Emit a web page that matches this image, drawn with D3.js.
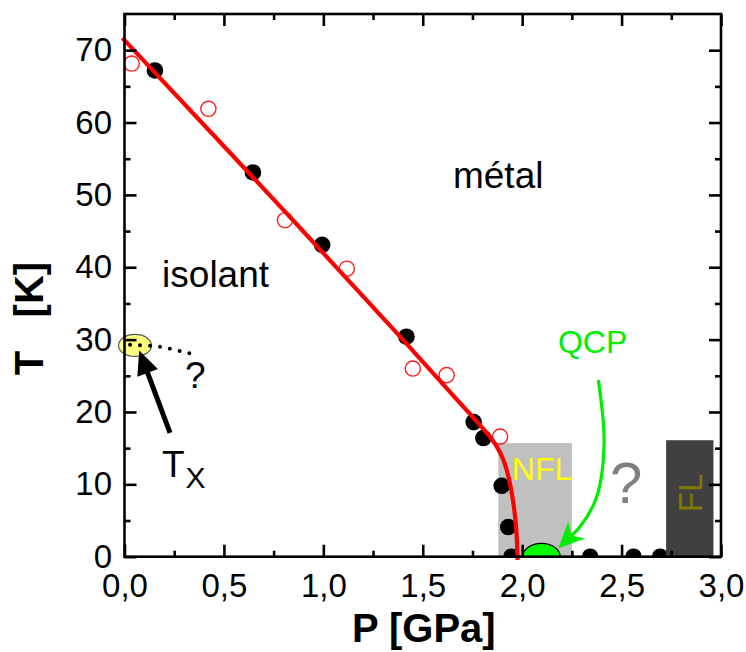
<!DOCTYPE html>
<html><head><meta charset="utf-8">
<script src="https://cdn.jsdelivr.net/npm/d3@7"></script>
<style>
html,body{margin:0;padding:0;background:#fff;}
text{font-family:"Liberation Sans",Arial,Helvetica,sans-serif;}
</style></head>
<body><svg id="chart" width="746" height="652"></svg>
<script>
// ---- data ----
const xTicks = [0, 0.5, 1.0, 1.5, 2.0, 2.5, 3.0];
const xTickLabels = ["0,0","0,5","1,0","1,5","2,0","2,5","3,0"];
const xMinorTicks = [0.25, 0.75, 1.25, 1.75, 2.25, 2.75];
const yTicks = [0, 10, 20, 30, 40, 50, 60, 70];
const yTickLabels = ["0","10","20","30","40","50","60","70"];
const yMinorTicks = [5, 15, 25, 35, 45, 55, 65];

const blackP = [0.153, 0.646, 0.994, 1.418, 1.756, 1.805, 1.897, 1.930, 1.946, 2.342, 2.560, 2.694];
const blackT = [67.2, 53.1, 43.1, 30.4, 18.6, 16.4, 9.8, 4.1, 0, 0, 0, 0];

const redP = [0.036, 0.422, 0.807, 1.118, 1.450, 1.620, 1.889];
const redT = [68.15, 61.9, 46.5, 39.8, 26.0, 25.1, 16.6];

const lineP = [-0.011, 0.80, 1.40, 1.6625, 1.7128, 1.7631, 1.8033, 1.8385, 1.8737, 1.9039, 1.9235, 1.9391, 1.9542, 1.9643, 1.9718, 1.9768];
const lineT = [71.7, 47.9, 30.0, 21.99, 20.47, 18.95, 17.71, 16.53, 15.15, 13.50, 11.84, 10.06, 7.71, 5.52, 3.17, -0.46];

const nflBox = {p0: 1.88, p1: 2.25, t: 15.7};
const flBox = {p0: 2.724, p1: 2.962, t: 16.1};
const qcp = {p: 2.097, t: 0};

const greenArrowP = [2.383, 2.412, 2.375, 2.291, 2.182];
const greenArrowT = [24.4, 15.66, 8.29, 4.14, 1.16];

const txEllipse = {p: 0.053, t: 29.2};
const dottedP = [0.028, 0.179, 0.326];
const dottedT = [29.3, 29.0, 28.1];
const blackArrow = {p0: 0.229, t0: 17.1, p1: 0.074, t1: 28.5};

// ---- layout ----
const svg = d3.select("#chart");
const L = 124.5, T = 14, R = 721, B = 556.7;
const x = d3.scaleLinear().domain([0, 3]).range([L, R]);
const y = d3.scaleLinear().domain([0, 75]).range([B, T]);

svg.append("defs").append("clipPath").attr("id","clip")
  .append("rect").attr("x", L).attr("y", T).attr("width", R-L).attr("height", B-T);

// NFL grey box
svg.append("rect")
  .attr("x", x(nflBox.p0)).attr("y", y(nflBox.t))
  .attr("width", x(nflBox.p1)-x(nflBox.p0)).attr("height", y(0)-y(nflBox.t))
  .attr("fill", "#c0c0c0");

// data points
const pts = svg.append("g").attr("clip-path","url(#clip)");
pts.selectAll("circle.b").data(blackP.map((p,i)=>[p,blackT[i]])).join("circle")
  .attr("class","b").attr("cx", d=>x(d[0])).attr("cy", d=>y(d[1])).attr("r", 8.3).attr("fill","#000");
pts.selectAll("circle.r").data(redP.map((p,i)=>[p,redT[i]])).join("circle")
  .attr("class","r").attr("cx", d=>x(d[0])).attr("cy", d=>y(d[1])).attr("r", 7.6)
  .attr("fill","none").attr("stroke","#ff2020").attr("stroke-width",1.4);

// FL dark box
svg.append("rect")
  .attr("x", x(flBox.p0)).attr("y", y(flBox.t))
  .attr("width", x(flBox.p1)-x(flBox.p0)).attr("height", y(0)-y(flBox.t))
  .attr("fill", "#404040");

// red line
svg.append("path")
  .datum(lineP.map((p,i)=>[p,lineT[i]]))
  .attr("d", d3.line().x(d=>x(d[0])).y(d=>y(d[1])).curve(d3.curveCatmullRom.alpha(0.5)))
  .attr("fill","none").attr("stroke","#ff0000").attr("stroke-width",4.2);

// QCP half ellipse
{
  const cx = x(qcp.p), cy = y(qcp.t), rx = 18.7, ry = 13.3;
  svg.append("path")
    .attr("d", `M${cx-rx},${cy} A${rx},${ry} 0 0 1 ${cx+rx},${cy} Z`)
    .attr("fill","#00ff00").attr("stroke","#000").attr("stroke-width",1.3);
}

// green arrow
{
  const gp = greenArrowP.map((p,i)=>[x(p), y(greenArrowT[i])]);
  const tip = gp[gp.length-1];
  const prev = gp[gp.length-2];
  const ang = Math.atan2(tip[1]-prev[1], tip[0]-prev[0]);
  const len = 26, hw = 12;
  const bx = tip[0]-len*Math.cos(ang), by = tip[1]-len*Math.sin(ang);
  const lineEnd = gp.slice(0,-1).concat([[tip[0]-14*Math.cos(ang), tip[1]-14*Math.sin(ang)]]);
  svg.append("path").datum(lineEnd)
    .attr("d", d3.line().curve(d3.curveCatmullRom.alpha(0.5)))
    .attr("fill","none").attr("stroke","#00ee00").attr("stroke-width",3.2);
  const nx = -Math.sin(ang), ny = Math.cos(ang);
  const notch = [tip[0]-len*0.7*Math.cos(ang), tip[1]-len*0.7*Math.sin(ang)];
  svg.append("path")
    .attr("d", `M${tip[0]},${tip[1]} L${bx+hw*nx},${by+hw*ny} L${notch[0]},${notch[1]} L${bx-hw*nx},${by-hw*ny} Z`)
    .attr("fill","#00ee00");
}

// Tx ellipse and dotted line
svg.append("ellipse")
  .attr("cx", x(txEllipse.p)).attr("cy", y(txEllipse.t)).attr("rx", 16.5).attr("ry", 11)
  .attr("fill","#ffff80").attr("stroke","#555").attr("stroke-width",1.2);
svg.append("path").datum(dottedP.map((p,i)=>[x(p), y(dottedT[i])]))
  .attr("d", d3.line().curve(d3.curveCatmullRom))
  .attr("fill","none").attr("stroke","#000").attr("stroke-width",4)
  .attr("stroke-linecap","round").attr("stroke-dasharray","0 10");

// black arrow
{
  const x0 = x(blackArrow.p0), y0 = y(blackArrow.t0), x1 = x(blackArrow.p1), y1 = y(blackArrow.t1);
  const ang = Math.atan2(y1-y0, x1-x0);
  const len = 24, hw = 11;
  const bx = x1-len*Math.cos(ang), by = y1-len*Math.sin(ang);
  const nx = -Math.sin(ang), ny = Math.cos(ang);
  svg.append("line").attr("x1",x0).attr("y1",y0).attr("x2",bx+4*Math.cos(ang)).attr("y2",by+4*Math.sin(ang))
    .attr("stroke","#000").attr("stroke-width",5);
  svg.append("path")
    .attr("d", `M${x1},${y1} L${bx+hw*nx},${by+hw*ny} L${bx-hw*nx},${by-hw*ny} Z`).attr("fill","#000");
}

// frame
svg.append("rect").attr("x",L).attr("y",T).attr("width",R-L).attr("height",B-T)
  .attr("fill","none").attr("stroke","#000").attr("stroke-width",2.6);

// axes
function styleAxis(g){ g.select(".domain").remove(); g.selectAll("line").attr("stroke","#000").attr("stroke-width",2.6); }
const fs = "33px";
svg.append("g").attr("transform",`translate(0,${B})`)
  .call(d3.axisBottom(x).tickValues(xTicks).tickSize(-12).tickPadding(16.5).tickFormat((d,i)=>xTickLabels[i]))
  .call(styleAxis).call(g=>g.selectAll("text").attr("font-size",fs).attr("fill","#000"));
svg.append("g").attr("transform",`translate(0,${B})`)
  .call(d3.axisBottom(x).tickValues(xMinorTicks).tickSize(-6).tickFormat(""))
  .call(styleAxis);
svg.append("g").attr("transform",`translate(0,${T})`)
  .call(d3.axisTop(x).tickValues(xTicks).tickSize(-12).tickFormat("")).call(styleAxis);
svg.append("g").attr("transform",`translate(0,${T})`)
  .call(d3.axisTop(x).tickValues(xMinorTicks).tickSize(-6).tickFormat("")).call(styleAxis);
svg.append("g").attr("transform",`translate(${L},0)`)
  .call(d3.axisLeft(y).tickValues(yTicks).tickSize(-12).tickPadding(12.5).tickFormat((d,i)=>yTickLabels[i]))
  .call(styleAxis).call(g=>g.selectAll("text").attr("font-size",fs).attr("fill","#000"));
svg.append("g").attr("transform",`translate(${L},0)`)
  .call(d3.axisLeft(y).tickValues(yMinorTicks).tickSize(-6).tickFormat("")).call(styleAxis);
svg.append("g").attr("transform",`translate(${R},0)`)
  .call(d3.axisRight(y).tickValues(yTicks).tickSize(-12).tickFormat("")).call(styleAxis);
svg.append("g").attr("transform",`translate(${R},0)`)
  .call(d3.axisRight(y).tickValues(yMinorTicks).tickSize(-6).tickFormat("")).call(styleAxis);

// axis titles
svg.append("text").attr("x", (L+R)/2 + 1).attr("y", 641.5).attr("text-anchor","middle")
  .attr("font-size","40px").attr("font-weight","bold").text("P [GPa]");
svg.append("text").attr("transform","translate(43,318.5) rotate(-90)").attr("text-anchor","middle")
  .attr("font-size","40px").attr("font-weight","bold").style("white-space","pre").text("T   [K]");

// annotations
svg.append("text").attr("x", x(0.189)).attr("y", y(37.25)).attr("font-size","37px").text("isolant");
svg.append("text").attr("x", x(1.652)).attr("y", y(51.0)).attr("font-size","37px").text("métal");
svg.append("text").attr("x", x(2.18)).attr("y", y(28.1)).attr("font-size","32px").attr("fill","#00ee00").text("QCP");
svg.append("text").attr("x", x(1.948)).attr("y", y(10.6)).attr("font-size","32px").attr("fill","#ffff00").text("NFL");
svg.append("text").attr("x", x(2.442)).attr("y", y(7.4)).attr("font-size","58px").attr("fill","#808080").text("?");
svg.append("text").attr("transform",`translate(${x(2.842)+12},${y(8.8)}) rotate(-90)`).attr("text-anchor","middle")
  .attr("font-size","33px").attr("fill","#7d7a00").text("FL");
svg.append("text").attr("x", 185).attr("y", 388).attr("font-size","37px").text("?");
const tx = svg.append("text").attr("x", 162).attr("y", 476.7).attr("font-size","37px");
tx.append("tspan").text("T");
tx.append("tspan").attr("font-size","30px").attr("dy", 11.5).attr("dx", 1).text("X");
</script></body></html>
